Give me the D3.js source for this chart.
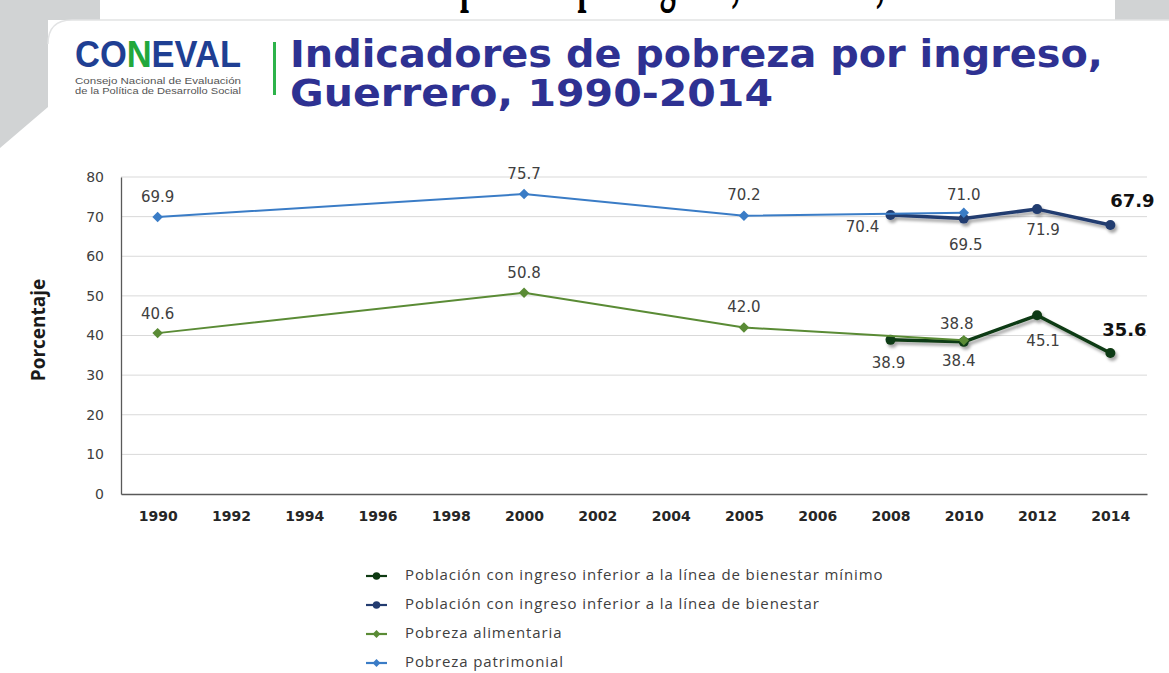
<html lang="es">
<head>
<meta charset="UTF-8">
<script src="https://d3js.org/d3.v7.min.js"></script>
<style>
  body { margin: 0; background: #fff; }
  svg { display: block; }
</style>
</head>
<body>
<div id="here"></div>
<script>
  // categorias (eje x) y series
  const years = ["1990", "1992", "1994", "1996", "1998", "2000", "2002", "2004", "2005", "2006", "2008", "2010", "2012", "2014"];
  const minimo      = [null, null, null, null, null, null, null, null, null, null, 38.9, 38.4, 45.1, 35.6];
  const bienestar   = [null, null, null, null, null, null, null, null, null, null, 70.4, 69.5, 71.9, 67.9];
  const alimentaria = [40.6, null, null, null, null, 50.8, null, null, 42.0, null, null, 38.8, null, null];
  const patrimonial = [69.9, null, null, null, null, 75.7, null, null, 70.2, null, null, 71.0, null, null];
  const yTicks = [0, 10, 20, 30, 40, 50, 60, 70, 80];

  const W = 1169, H = 673;

  // estilos por serie (orden de dibujo = orden del legend)
  const series = [
    { name: "Población con ingreso inferior a la línea de bienestar mínimo", values: minimo,
      color: "#0e3a12", width: 3.5, marker: "circle", shadow: true,
      // desplazamientos de etiqueta (dx, dy) respecto al punto
      off: { 10: [-2, 24], 11: [-5, 20], 12: [6, 26], 13: [14, -22] }, bold: { 13: true } },
    { name: "Población con ingreso inferior a la línea de bienestar", values: bienestar,
      color: "#233c70", width: 3.5, marker: "circle", shadow: true,
      off: { 10: [-28, 12], 11: [2, 27], 12: [6, 21], 13: [22, -23] }, bold: { 13: true } },
    { name: "Pobreza alimentaria", values: alimentaria,
      color: "#5a8b35", width: 2, marker: "diamond", shadow: false,
      off: { 0: [0, -19], 5: [0, -19], 8: [0, -20], 11: [-7, -16] }, bold: {} },
    { name: "Pobreza patrimonial", values: patrimonial,
      color: "#3a7cc6", width: 2, marker: "diamond", shadow: false,
      off: { 0: [0, -20], 5: [0, -20], 8: [0, -20], 11: [0, -17] }, bold: {} }
  ];

  const svg = d3.select("#here").append("svg")
    .attr("width", W).attr("height", H)
    .style("font-family", "'DejaVu Sans', Verdana, sans-serif");

  const defs = svg.append("defs");
  const f = defs.append("filter").attr("id", "shadow")
    .attr("x", "-20%").attr("y", "-50%").attr("width", "140%").attr("height", "200%");
  f.append("feDropShadow").attr("dx", 2).attr("dy", 3).attr("stdDeviation", 1.6)
    .attr("flood-color", "#000").attr("flood-opacity", 0.35);

  // ---- fondo de la diapositiva ----
  svg.append("path")
    .attr("d", "M0,0 H100 V20 H48 V107 L0,148 Z")
    .attr("fill", "#d1d3d4");
  svg.append("rect").attr("x", 1115).attr("y", 0).attr("width", 54).attr("height", 20).attr("fill", "#d1d3d4");
  svg.append("path")
    .attr("d", "M48,44 Q48,20 72,20 H1169 V673 H48 Z")
    .attr("fill", "#fff");
  svg.append("path")
    .attr("d", "M48,44 Q48,20 72,20 H1169")
    .attr("fill", "none").attr("stroke", "#e2e3e4").attr("stroke-width", 1.5);

  // titulo cortado en la parte superior (solo se ven los trazos descendentes)
  const cut = svg.append("text")
    .attr("font-family", "'Liberation Serif', 'Times New Roman', serif")
    .attr("font-weight", "bold").attr("font-size", 32)
    .attr("transform", "scale(1,2.2)")
    .attr("x", 0).attr("y", -1)
    .attr("fill", "#000")
    .text("Indicadores de pobreza por ingreso, Guerrero, 1990-2014");
  const pIdx = "Indicadores de ".length;
  const p0 = cut.node().getStartPositionOfChar(pIdx).x;
  cut.attr("x", 460 - p0);

  // ---- logo ----
  const logo = svg.append("g");
  const lt = logo.append("text")
    .attr("x", 75).attr("y", 67)
    .attr("font-family", "'Liberation Sans', Arial, sans-serif")
    .attr("font-weight", "bold").attr("font-size", 36)
    .attr("textLength", 166).attr("lengthAdjust", "spacingAndGlyphs");
  lt.append("tspan").attr("fill", "#1f3f93").text("CO");
  lt.append("tspan").attr("fill", "#22a83c").text("N");
  lt.append("tspan").attr("fill", "#1f3f93").text("EVAL");
  logo.append("text").attr("x", 75).attr("y", 84)
    .attr("font-family", "'Liberation Sans', Arial, sans-serif").attr("font-size", 9)
    .attr("fill", "#555").attr("textLength", 166).attr("lengthAdjust", "spacingAndGlyphs")
    .text("Consejo Nacional de Evaluación");
  logo.append("text").attr("x", 75).attr("y", 94)
    .attr("font-family", "'Liberation Sans', Arial, sans-serif").attr("font-size", 9)
    .attr("fill", "#555").attr("textLength", 166).attr("lengthAdjust", "spacingAndGlyphs")
    .text("de la Política de Desarrollo Social");
  svg.append("rect").attr("x", 273).attr("y", 42).attr("width", 3).attr("height", 53).attr("fill", "#2db34a");

  // ---- titulo ----
  svg.append("text").attr("x", 290).attr("y", 67)
    .attr("font-weight", "bold").attr("font-size", 37).attr("fill", "#2e3192")
    .attr("textLength", 813).attr("lengthAdjust", "spacingAndGlyphs")
    .text("Indicadores de pobreza por ingreso,");
  svg.append("text").attr("x", 290).attr("y", 106)
    .attr("font-weight", "bold").attr("font-size", 37).attr("fill", "#2e3192")
    .attr("textLength", 483).attr("lengthAdjust", "spacingAndGlyphs")
    .text("Guerrero, 1990-2014");

  // ---- grafico ----
  const x = d3.scalePoint().domain(years).range([121, 1147]).padding(0.5);
  const y = d3.scaleLinear().domain([0, 80]).range([494, 177]);

  // rejilla
  svg.append("g").selectAll("line").data(yTicks.filter(d => d > 0)).join("line")
    .attr("x1", 121).attr("x2", 1147)
    .attr("y1", d => y(d)).attr("y2", d => y(d))
    .attr("stroke", "#d9d9d9").attr("stroke-width", 1);

  // eje y
  const yAxis = svg.append("g").attr("transform", "translate(121,0)")
    .call(d3.axisLeft(y).tickValues(yTicks).tickSize(0).tickPadding(17));
  yAxis.select(".domain").attr("stroke", "#595959").attr("stroke-width", 1.3);
  yAxis.selectAll("text").attr("font-size", 14).attr("fill", "#404040")
    .attr("font-family", "'DejaVu Sans', Verdana, sans-serif");

  // eje x
  const xAxis = svg.append("g").attr("transform", "translate(0,494)")
    .call(d3.axisBottom(x).tickSize(0).tickPadding(17));
  xAxis.select(".domain").attr("stroke", "#595959").attr("stroke-width", 1.3);
  xAxis.selectAll("text").attr("font-size", 14).attr("font-weight", "bold").attr("fill", "#262626")
    .attr("font-family", "'DejaVu Sans', Verdana, sans-serif");

  // titulo eje y
  svg.append("text")
    .attr("transform", "translate(45,330) rotate(-90)")
    .attr("text-anchor", "middle")
    .attr("font-family", "'Open Sans', 'Liberation Sans', sans-serif")
    .attr("font-weight", "bold").attr("font-size", 19).attr("fill", "#1a1a1a")
    .text("Porcentaje");

  const diamond = d3.symbol().type(d3.symbolDiamond2);

  function drawMarker(g, s, cx, cy, scale) {
    if (s.marker === "circle") {
      g.append("circle").attr("cx", cx).attr("cy", cy).attr("r", 5 * scale).attr("fill", s.color);
    } else {
      g.append("path").attr("transform", `translate(${cx},${cy})`)
        .attr("d", diamond.size(70 * scale * scale)()).attr("fill", s.color);
    }
  }

  const line = d3.line().x(d => x(d.year)).y(d => y(d.v));

  series.forEach(s => {
    const pts = s.values.map((v, i) => ({ year: years[i], v, i })).filter(d => d.v !== null);
    const g = svg.append("g");
    if (s.shadow) g.attr("filter", "url(#shadow)");
    g.append("path").datum(pts).attr("d", line)
      .attr("fill", "none").attr("stroke", s.color).attr("stroke-width", s.width)
      .attr("stroke-linejoin", "round");
    pts.forEach(d => drawMarker(g, s, x(d.year), y(d.v), 1));
  });

  // etiquetas de datos
  series.forEach(s => {
    s.values.forEach((v, i) => {
      if (v === null) return;
      const o = s.off[i] || [0, -16];
      const b = s.bold[i];
      svg.append("text")
        .attr("x", x(years[i]) + o[0]).attr("y", y(v) + o[1])
        .attr("text-anchor", "middle").attr("dominant-baseline", "middle")
        .attr("font-size", b ? 18 : 15).attr("font-weight", b ? "bold" : "normal")
        .attr("fill", b ? "#111" : "#404040")
        .text(v.toFixed(1));
    });
  });

  // leyenda
  const leg = svg.append("g");
  series.forEach((s, k) => {
    const cy = 576 + k * 29;
    leg.append("line").attr("x1", 366).attr("x2", 387).attr("y1", cy).attr("y2", cy)
      .attr("stroke", s.color).attr("stroke-width", 2.2);
    drawMarker(leg, s, 376.5, cy, 0.75);
    leg.append("text").attr("x", 405).attr("y", cy).attr("dominant-baseline", "middle")
      .attr("font-family", "'Open Sans', 'Liberation Sans', sans-serif")
      .attr("font-size", 15).attr("letter-spacing", 0.9).attr("fill", "#404040")
      .text(s.name);
  });
</script>
</body>
</html>
